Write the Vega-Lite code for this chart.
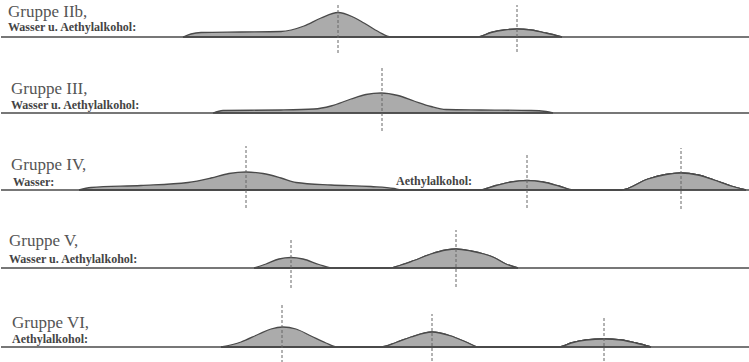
{
  "$schema": "https://vega.github.io/schema/vega-lite/v6.json",
  "background": "white",
  "padding": 0,
  "spacing": 0,
  "config": {"view": {"stroke": null}, "axis": {"disable": true}},
  "datasets": {
    "curves": [
      {"row":"IIb","id":"IIb-a","x":182,"h":0},{"row":"IIb","id":"IIb-a","x":190,"h":3},{"row":"IIb","id":"IIb-a","x":200,"h":4.5},{"row":"IIb","id":"IIb-a","x":240,"h":5},{"row":"IIb","id":"IIb-a","x":280,"h":5.5},{"row":"IIb","id":"IIb-a","x":303,"h":11},{"row":"IIb","id":"IIb-a","x":320,"h":19},{"row":"IIb","id":"IIb-a","x":337,"h":24.5},{"row":"IIb","id":"IIb-a","x":352,"h":20},{"row":"IIb","id":"IIb-a","x":363,"h":14},{"row":"IIb","id":"IIb-a","x":378,"h":5},{"row":"IIb","id":"IIb-a","x":390,"h":0},
      {"row":"IIb","id":"IIb-b","x":476,"h":0},{"row":"IIb","id":"IIb-b","x":490,"h":4.5},{"row":"IIb","id":"IIb-b","x":503,"h":7},{"row":"IIb","id":"IIb-b","x":516,"h":8},{"row":"IIb","id":"IIb-b","x":530,"h":7},{"row":"IIb","id":"IIb-b","x":545,"h":4},{"row":"IIb","id":"IIb-b","x":561,"h":0},
      {"row":"III","id":"III-a","x":212,"h":0},{"row":"III","id":"III-a","x":222,"h":2.5},{"row":"III","id":"III-a","x":280,"h":3},{"row":"III","id":"III-a","x":313,"h":4},{"row":"III","id":"III-a","x":330,"h":7},{"row":"III","id":"III-a","x":350,"h":14},{"row":"III","id":"III-a","x":365,"h":18.5},{"row":"III","id":"III-a","x":380,"h":20},{"row":"III","id":"III-a","x":397,"h":17.5},{"row":"III","id":"III-a","x":413,"h":12},{"row":"III","id":"III-a","x":430,"h":6.5},{"row":"III","id":"III-a","x":445,"h":3.5},{"row":"III","id":"III-a","x":480,"h":3},{"row":"III","id":"III-a","x":530,"h":2.5},{"row":"III","id":"III-a","x":545,"h":1.5},{"row":"III","id":"III-a","x":552,"h":0},
      {"row":"IV","id":"IV-a","x":78,"h":0},{"row":"IV","id":"IV-a","x":90,"h":2.5},{"row":"IV","id":"IV-a","x":140,"h":4.5},{"row":"IV","id":"IV-a","x":187,"h":7.5},{"row":"IV","id":"IV-a","x":210,"h":12},{"row":"IV","id":"IV-a","x":228,"h":16.5},{"row":"IV","id":"IV-a","x":245,"h":18},{"row":"IV","id":"IV-a","x":262,"h":16.5},{"row":"IV","id":"IV-a","x":280,"h":12},{"row":"IV","id":"IV-a","x":295,"h":7.5},{"row":"IV","id":"IV-a","x":330,"h":5},{"row":"IV","id":"IV-a","x":370,"h":3.5},{"row":"IV","id":"IV-a","x":393,"h":1.5},{"row":"IV","id":"IV-a","x":400,"h":0},
      {"row":"IV","id":"IV-b","x":478,"h":0},{"row":"IV","id":"IV-b","x":495,"h":4.5},{"row":"IV","id":"IV-b","x":510,"h":8},{"row":"IV","id":"IV-b","x":526,"h":9.5},{"row":"IV","id":"IV-b","x":542,"h":8},{"row":"IV","id":"IV-b","x":558,"h":4},{"row":"IV","id":"IV-b","x":572,"h":0},
      {"row":"IV","id":"IV-c","x":620,"h":0},{"row":"IV","id":"IV-c","x":647,"h":11},{"row":"IV","id":"IV-c","x":665,"h":15.5},{"row":"IV","id":"IV-c","x":680,"h":17},{"row":"IV","id":"IV-c","x":697,"h":15},{"row":"IV","id":"IV-c","x":713,"h":10},{"row":"IV","id":"IV-c","x":730,"h":4},{"row":"IV","id":"IV-c","x":745,"h":0},
      {"row":"V","id":"V-a","x":253,"h":0},{"row":"V","id":"V-a","x":265,"h":4},{"row":"V","id":"V-a","x":278,"h":9},{"row":"V","id":"V-a","x":290,"h":10.5},{"row":"V","id":"V-a","x":302,"h":9},{"row":"V","id":"V-a","x":318,"h":3.5},{"row":"V","id":"V-a","x":332,"h":0},
      {"row":"V","id":"V-b","x":388,"h":0},{"row":"V","id":"V-b","x":400,"h":3},{"row":"V","id":"V-b","x":413,"h":7.5},{"row":"V","id":"V-b","x":430,"h":14},{"row":"V","id":"V-b","x":445,"h":18},{"row":"V","id":"V-b","x":455,"h":19},{"row":"V","id":"V-b","x":470,"h":17},{"row":"V","id":"V-b","x":483,"h":14},{"row":"V","id":"V-b","x":493,"h":10.5},{"row":"V","id":"V-b","x":505,"h":4},{"row":"V","id":"V-b","x":517,"h":0},
      {"row":"VI","id":"VI-a","x":220,"h":0},{"row":"VI","id":"VI-a","x":240,"h":5},{"row":"VI","id":"VI-a","x":258,"h":13},{"row":"VI","id":"VI-a","x":270,"h":18},{"row":"VI","id":"VI-a","x":282,"h":20},{"row":"VI","id":"VI-a","x":295,"h":18},{"row":"VI","id":"VI-a","x":310,"h":11},{"row":"VI","id":"VI-a","x":325,"h":4},{"row":"VI","id":"VI-a","x":337,"h":0},
      {"row":"VI","id":"VI-b","x":380,"h":0},{"row":"VI","id":"VI-b","x":395,"h":4.5},{"row":"VI","id":"VI-b","x":410,"h":10},{"row":"VI","id":"VI-b","x":431,"h":15},{"row":"VI","id":"VI-b","x":450,"h":11},{"row":"VI","id":"VI-b","x":465,"h":5},{"row":"VI","id":"VI-b","x":478,"h":0},
      {"row":"VI","id":"VI-c","x":558,"h":0},{"row":"VI","id":"VI-c","x":570,"h":4},{"row":"VI","id":"VI-c","x":585,"h":7},{"row":"VI","id":"VI-c","x":603,"h":8},{"row":"VI","id":"VI-c","x":620,"h":7},{"row":"VI","id":"VI-c","x":635,"h":4},{"row":"VI","id":"VI-c","x":650,"h":0}
    ],
    "dashes": [
      {"row":"IIb","x":337,"h1":-16,"h2":32},{"row":"IIb","x":516,"h1":-15,"h2":32},
      {"row":"III","x":381,"h1":-18,"h2":45},
      {"row":"IV","x":245,"h1":-18,"h2":44},{"row":"IV","x":526,"h1":-18,"h2":37},{"row":"IV","x":680,"h1":-19,"h2":42},
      {"row":"V","x":290,"h1":-20,"h2":30},{"row":"V","x":455,"h1":-19,"h2":38},
      {"row":"VI","x":281,"h1":-16,"h2":42},{"row":"VI","x":431,"h1":-19,"h2":33},{"row":"VI","x":603,"h1":-19,"h2":31}
    ],
    "labels": [
      {"row":"IIb","kind":"title","text":"Gruppe IIb,","x":7,"h":20},
      {"row":"IIb","kind":"sub","text":"Wasser u. Aethylalkohol:","x":7,"h":6},
      {"row":"III","kind":"title","text":"Gruppe III,","x":10,"h":19},
      {"row":"III","kind":"sub","text":"Wasser u. Aethylalkohol:","x":10,"h":4},
      {"row":"IV","kind":"title","text":"Gruppe IV,","x":10,"h":20},
      {"row":"IV","kind":"sub","text":"Wasser:","x":12,"h":4},
      {"row":"IV","kind":"sub","text":"Aethylalkohol:","x":395,"h":5},
      {"row":"V","kind":"title","text":"Gruppe V,","x":8,"h":22},
      {"row":"V","kind":"sub","text":"Wasser u. Aethylalkohol:","x":8,"h":5},
      {"row":"VI","kind":"title","text":"Gruppe VI,","x":11,"h":19},
      {"row":"VI","kind":"sub","text":"Aethylalkohol:","x":11,"h":4}
    ]
  },
  "vconcat": [
    {
      "width": 749, "height": 55,
      "layer": [
        {"data": {"name": "curves"}, "transform": [{"filter": "datum.row === 'IIb'"}],
         "mark": {"type": "area", "interpolate": "monotone", "fill": "#ababab", "stroke": "#4a4a4a", "strokeWidth": 1.3},
         "encoding": {"x": {"field": "x", "type": "quantitative", "scale": {"domain": [0, 749], "nice": false, "zero": false}},
                      "y": {"field": "h", "type": "quantitative", "scale": {"domain": [-18, 37], "nice": false, "zero": false}},
                      "detail": {"field": "id"}}},
        {"data": {"values": [{}]}, "mark": {"type": "rule", "stroke": "#4a4a4a", "strokeWidth": 1.6}, "encoding": {"y": {"datum": 0}}},
        {"data": {"name": "dashes"}, "transform": [{"filter": "datum.row === 'IIb'"}],
         "mark": {"type": "rule", "stroke": "#666", "strokeWidth": 1, "strokeDash": [3, 2]},
         "encoding": {"x": {"field": "x", "type": "quantitative"}, "y": {"field": "h1", "type": "quantitative"}, "y2": {"field": "h2"}}},
        {"data": {"name": "labels"}, "transform": [{"filter": "datum.row === 'IIb' && datum.kind === 'title'"}],
         "mark": {"type": "text", "align": "left", "baseline": "alphabetic", "font": "Liberation Serif", "fontSize": 17, "fill": "#555"},
         "encoding": {"x": {"field": "x", "type": "quantitative"}, "y": {"field": "h", "type": "quantitative"}, "text": {"field": "text"}}},
        {"data": {"name": "labels"}, "transform": [{"filter": "datum.row === 'IIb' && datum.kind === 'sub'"}],
         "mark": {"type": "text", "align": "left", "baseline": "alphabetic", "font": "Liberation Serif", "fontWeight": "bold", "fontSize": 12, "fill": "#444"},
         "encoding": {"x": {"field": "x", "type": "quantitative"}, "y": {"field": "h", "type": "quantitative"}, "text": {"field": "text"}}}
      ]
    },
    {
      "width": 749, "height": 76,
      "layer": [
        {"data": {"name": "curves"}, "transform": [{"filter": "datum.row === 'III'"}],
         "mark": {"type": "area", "interpolate": "monotone", "fill": "#ababab", "stroke": "#4a4a4a", "strokeWidth": 1.3},
         "encoding": {"x": {"field": "x", "type": "quantitative", "scale": {"domain": [0, 749], "nice": false, "zero": false}},
                      "y": {"field": "h", "type": "quantitative", "scale": {"domain": [-18, 58], "nice": false, "zero": false}},
                      "detail": {"field": "id"}}},
        {"data": {"values": [{}]}, "mark": {"type": "rule", "stroke": "#4a4a4a", "strokeWidth": 1.6}, "encoding": {"y": {"datum": 0}}},
        {"data": {"name": "dashes"}, "transform": [{"filter": "datum.row === 'III'"}],
         "mark": {"type": "rule", "stroke": "#666", "strokeWidth": 1, "strokeDash": [3, 2]},
         "encoding": {"x": {"field": "x", "type": "quantitative"}, "y": {"field": "h1", "type": "quantitative"}, "y2": {"field": "h2"}}},
        {"data": {"name": "labels"}, "transform": [{"filter": "datum.row === 'III' && datum.kind === 'title'"}],
         "mark": {"type": "text", "align": "left", "baseline": "alphabetic", "font": "Liberation Serif", "fontSize": 17, "fill": "#555"},
         "encoding": {"x": {"field": "x", "type": "quantitative"}, "y": {"field": "h", "type": "quantitative"}, "text": {"field": "text"}}},
        {"data": {"name": "labels"}, "transform": [{"filter": "datum.row === 'III' && datum.kind === 'sub'"}],
         "mark": {"type": "text", "align": "left", "baseline": "alphabetic", "font": "Liberation Serif", "fontWeight": "bold", "fontSize": 12, "fill": "#444"},
         "encoding": {"x": {"field": "x", "type": "quantitative"}, "y": {"field": "h", "type": "quantitative"}, "text": {"field": "text"}}}
      ]
    },
    {
      "width": 749, "height": 76,
      "layer": [
        {"data": {"name": "curves"}, "transform": [{"filter": "datum.row === 'IV'"}],
         "mark": {"type": "area", "interpolate": "monotone", "fill": "#ababab", "stroke": "#4a4a4a", "strokeWidth": 1.3},
         "encoding": {"x": {"field": "x", "type": "quantitative", "scale": {"domain": [0, 749], "nice": false, "zero": false}},
                      "y": {"field": "h", "type": "quantitative", "scale": {"domain": [-18, 58], "nice": false, "zero": false}},
                      "detail": {"field": "id"}}},
        {"data": {"values": [{}]}, "mark": {"type": "rule", "stroke": "#4a4a4a", "strokeWidth": 1.6}, "encoding": {"y": {"datum": 0}}},
        {"data": {"name": "dashes"}, "transform": [{"filter": "datum.row === 'IV'"}],
         "mark": {"type": "rule", "stroke": "#666", "strokeWidth": 1, "strokeDash": [3, 2]},
         "encoding": {"x": {"field": "x", "type": "quantitative"}, "y": {"field": "h1", "type": "quantitative"}, "y2": {"field": "h2"}}},
        {"data": {"name": "labels"}, "transform": [{"filter": "datum.row === 'IV' && datum.kind === 'title'"}],
         "mark": {"type": "text", "align": "left", "baseline": "alphabetic", "font": "Liberation Serif", "fontSize": 17, "fill": "#555"},
         "encoding": {"x": {"field": "x", "type": "quantitative"}, "y": {"field": "h", "type": "quantitative"}, "text": {"field": "text"}}},
        {"data": {"name": "labels"}, "transform": [{"filter": "datum.row === 'IV' && datum.kind === 'sub'"}],
         "mark": {"type": "text", "align": "left", "baseline": "alphabetic", "font": "Liberation Serif", "fontWeight": "bold", "fontSize": 12, "fill": "#444"},
         "encoding": {"x": {"field": "x", "type": "quantitative"}, "y": {"field": "h", "type": "quantitative"}, "text": {"field": "text"}}}
      ]
    },
    {
      "width": 749, "height": 76,
      "layer": [
        {"data": {"name": "curves"}, "transform": [{"filter": "datum.row === 'V'"}],
         "mark": {"type": "area", "interpolate": "monotone", "fill": "#ababab", "stroke": "#4a4a4a", "strokeWidth": 1.3},
         "encoding": {"x": {"field": "x", "type": "quantitative", "scale": {"domain": [0, 749], "nice": false, "zero": false}},
                      "y": {"field": "h", "type": "quantitative", "scale": {"domain": [-18, 58], "nice": false, "zero": false}},
                      "detail": {"field": "id"}}},
        {"data": {"values": [{}]}, "mark": {"type": "rule", "stroke": "#4a4a4a", "strokeWidth": 1.6}, "encoding": {"y": {"datum": 0}}},
        {"data": {"name": "dashes"}, "transform": [{"filter": "datum.row === 'V'"}],
         "mark": {"type": "rule", "stroke": "#666", "strokeWidth": 1, "strokeDash": [3, 2]},
         "encoding": {"x": {"field": "x", "type": "quantitative"}, "y": {"field": "h1", "type": "quantitative"}, "y2": {"field": "h2"}}},
        {"data": {"name": "labels"}, "transform": [{"filter": "datum.row === 'V' && datum.kind === 'title'"}],
         "mark": {"type": "text", "align": "left", "baseline": "alphabetic", "font": "Liberation Serif", "fontSize": 17, "fill": "#555"},
         "encoding": {"x": {"field": "x", "type": "quantitative"}, "y": {"field": "h", "type": "quantitative"}, "text": {"field": "text"}}},
        {"data": {"name": "labels"}, "transform": [{"filter": "datum.row === 'V' && datum.kind === 'sub'"}],
         "mark": {"type": "text", "align": "left", "baseline": "alphabetic", "font": "Liberation Serif", "fontWeight": "bold", "fontSize": 12, "fill": "#444"},
         "encoding": {"x": {"field": "x", "type": "quantitative"}, "y": {"field": "h", "type": "quantitative"}, "text": {"field": "text"}}}
      ]
    },
    {
      "width": 749, "height": 76,
      "layer": [
        {"data": {"name": "curves"}, "transform": [{"filter": "datum.row === 'VI'"}],
         "mark": {"type": "area", "interpolate": "monotone", "fill": "#ababab", "stroke": "#4a4a4a", "strokeWidth": 1.3},
         "encoding": {"x": {"field": "x", "type": "quantitative", "scale": {"domain": [0, 749], "nice": false, "zero": false}},
                      "y": {"field": "h", "type": "quantitative", "scale": {"domain": [-18, 58], "nice": false, "zero": false}},
                      "detail": {"field": "id"}}},
        {"data": {"values": [{}]}, "mark": {"type": "rule", "stroke": "#4a4a4a", "strokeWidth": 1.6}, "encoding": {"y": {"datum": 0}}},
        {"data": {"name": "dashes"}, "transform": [{"filter": "datum.row === 'VI'"}],
         "mark": {"type": "rule", "stroke": "#666", "strokeWidth": 1, "strokeDash": [3, 2]},
         "encoding": {"x": {"field": "x", "type": "quantitative"}, "y": {"field": "h1", "type": "quantitative"}, "y2": {"field": "h2"}}},
        {"data": {"name": "labels"}, "transform": [{"filter": "datum.row === 'VI' && datum.kind === 'title'"}],
         "mark": {"type": "text", "align": "left", "baseline": "alphabetic", "font": "Liberation Serif", "fontSize": 17, "fill": "#555"},
         "encoding": {"x": {"field": "x", "type": "quantitative"}, "y": {"field": "h", "type": "quantitative"}, "text": {"field": "text"}}},
        {"data": {"name": "labels"}, "transform": [{"filter": "datum.row === 'VI' && datum.kind === 'sub'"}],
         "mark": {"type": "text", "align": "left", "baseline": "alphabetic", "font": "Liberation Serif", "fontWeight": "bold", "fontSize": 12, "fill": "#444"},
         "encoding": {"x": {"field": "x", "type": "quantitative"}, "y": {"field": "h", "type": "quantitative"}, "text": {"field": "text"}}}
      ]
    }
  ]
}
